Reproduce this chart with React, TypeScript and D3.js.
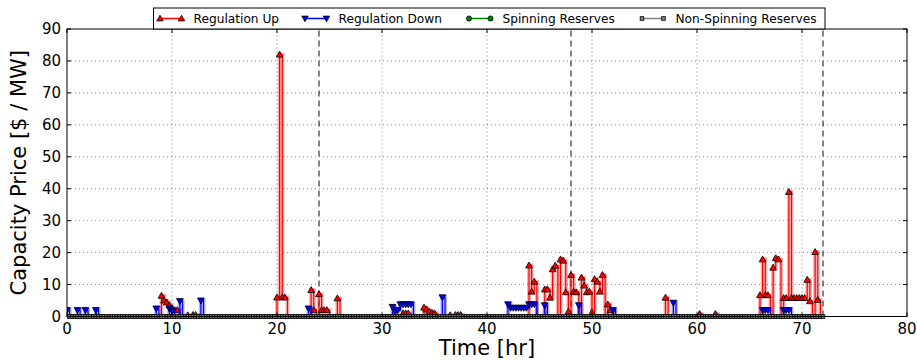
import React from 'react';
import * as d3 from 'd3';

// quarter-hour grid of the 72 h horizon
const horizonHours = 72;
const stepHours = 0.25;

// non-zero capacity prices [hour, $/MW]; every other quarter-hour is 0
const regulationUp: [number, number][] = [
  [9.0, 6.5], [9.25, 5.0], [9.5, 4.4], [9.75, 3.5], [10.0, 2.5], [10.25, 2.0], [10.5, 2.0],
  [11.5, 0.4], [12.0, 0.5], [12.25, 0.5],
  [20.0, 6], [20.25, 82], [20.5, 6], [20.75, 6],
  [23.25, 8.3], [23.5, 2.0], [24.0, 7.0], [24.25, 2.0], [24.5, 2.0], [24.75, 2.0], [25.75, 5.7],
  [32.0, 1.0], [32.25, 1.0], [32.5, 1.0],
  [34.0, 2.8], [34.25, 2.2], [34.5, 1.5], [34.75, 1.2], [35.0, 1.0],
  [36.5, 0.4], [37.0, 0.5], [37.25, 0.5], [37.5, 0.5],
  [44.0, 16], [44.25, 7.8], [44.5, 10.9], [45.5, 8.5], [45.75, 8.5],
  [46.0, 5.9], [46.25, 14.8], [46.5, 15.9], [47.0, 17.9], [47.25, 17.5], [47.5, 7.6], [47.75, 1.5],
  [48.0, 13], [48.25, 7.8], [48.5, 7.6], [49.0, 12.2], [49.25, 9.7], [49.5, 7.6], [49.75, 7.8],
  [50.0, 1.3], [50.25, 11.7], [50.5, 10.9], [50.75, 7.8], [51.0, 13], [51.5, 3.8], [51.75, 2.0],
  [57.0, 5.9], [60.25, 0.8], [61.75, 0.8],
  [66.0, 6.7], [66.25, 17.9], [66.5, 6.7], [66.75, 6.7],
  [67.25, 15.3], [67.5, 18.3], [67.75, 17.9],
  [68.25, 5.8], [68.5, 5.8], [68.75, 39], [69.0, 5.8], [69.25, 5.8], [69.5, 5.8], [69.75, 5.8],
  [70.0, 5.8], [70.25, 5.8], [70.5, 11.5], [70.75, 4.8], [71.25, 20.2], [71.5, 5.2],
];

const regulationDown: [number, number][] = [
  [0.0, 2.0], [1.0, 2.0], [1.75, 2.0], [2.75, 2.0],
  [8.5, 2.5], [9.75, 2.5], [10.0, 1.8], [10.75, 4.8], [12.75, 5.0],
  [23.0, 2.5],
  [31.0, 3.0], [31.25, 1.5], [31.5, 2.0], [31.75, 3.8], [32.0, 3.8], [32.25, 3.8], [32.5, 3.8], [32.75, 3.8],
  [35.75, 6.0],
  [42.0, 3.8], [42.25, 2.7], [42.5, 2.7], [42.75, 2.7], [43.0, 2.7], [43.25, 2.7], [43.5, 2.7], [43.75, 2.7],
  [44.0, 3.8], [44.25, 3.8], [44.5, 3.8], [45.5, 3.5], [48.75, 3.5], [52.0, 2.0],
  [57.75, 4.3],
  [66.25, 2.0], [66.5, 2.0], [66.75, 2.0], [68.25, 2.0], [68.5, 2.0], [68.75, 2.0],
];

const spinningReserves: [number, number][] = [];
const nonSpinningReserves: [number, number][] = [];

const xTicks = [0, 10, 20, 30, 40, 50, 60, 70, 80];
const yTicks = [0, 10, 20, 30, 40, 50, 60, 70, 80, 90];
const dayBoundaries = [24, 48, 72];

const legendItems = [
  { label: 'Regulation Up', color: '#ff0000', marker: 'up' },
  { label: 'Regulation Down', color: '#0000ff', marker: 'down' },
  { label: 'Spinning Reserves', color: '#008000', marker: 'circle' },
  { label: 'Non-Spinning Reserves', color: '#808080', marker: 'square' },
];

const W = 917;
const H = 363;
const margin = { left: 67, right: 10, top: 29, bottom: 46.5 };
const font = 'DejaVu Sans, sans-serif';

const times = d3.range(0, horizonHours + stepHours / 2, stepHours);

function expand(points: [number, number][]) {
  const lookup = new Map(points.map(([t, v]) => [t.toFixed(2), v]));
  return times.map(t => ({ t, v: lookup.get(t.toFixed(2)) ?? 0 }));
}

function Marker({ kind, x, y, color, r }: { kind: string; x: number; y: number; color: string; r: number }) {
  if (kind === 'up') {
    return <path d={`M${x},${y - r}L${x + r},${y + r * 0.75}L${x - r},${y + r * 0.75}Z`} fill={color} stroke="#000" strokeWidth={0.8} />;
  }
  if (kind === 'down') {
    return <path d={`M${x},${y + r}L${x + r},${y - r * 0.75}L${x - r},${y - r * 0.75}Z`} fill={color} stroke="#000" strokeWidth={0.8} />;
  }
  if (kind === 'circle') {
    return <circle cx={x} cy={y} r={r * 0.8} fill={color} stroke="#000" strokeWidth={0.8} />;
  }
  return <rect x={x - r * 0.7} y={y - r * 0.7} width={r * 1.4} height={r * 1.4} fill={color} stroke="#000" strokeWidth={0.8} />;
}

export default function App() {
  const innerW = W - margin.left - margin.right;
  const innerH = H - margin.top - margin.bottom;
  const x = d3.scaleLinear().domain([0, 80]).range([margin.left, margin.left + innerW]);
  const y = d3.scaleLinear().domain([0, 90]).range([margin.top + innerH, margin.top]);

  const stepLine = d3
    .line<{ t: number; v: number }>()
    .x(d => x(d.t))
    .y(d => y(d.v))
    .curve(d3.curveStepAfter);

  const series = [
    { data: expand(regulationUp), ...legendItems[0], showZeroMarkers: false },
    { data: expand(regulationDown), ...legendItems[1], showZeroMarkers: false },
    { data: expand(spinningReserves), ...legendItems[2], showZeroMarkers: false },
    { data: expand(nonSpinningReserves), ...legendItems[3], showZeroMarkers: true },
  ];

  const x0 = margin.left;
  const x1 = margin.left + innerW;
  const y0 = margin.top + innerH;
  const y1 = margin.top;

  // legend layout
  const legend = { x: 153.5, y: 8, w: 671.5, h: 21 };
  const legendX = [160, 305, 469, 642];
  const sampleLen = 21.5;

  return (
    <svg width={W} height={H} style={{ position: 'absolute', left: 0, top: 0, background: '#fff' }} fontFamily={font}>
      <defs>
        <clipPath id="plot">
          <rect x={x0} y={y1 - 6} width={innerW} height={innerH + 12} />
        </clipPath>
      </defs>
      <rect width={W} height={H} fill="#fff" />

      {/* grid */}
      {xTicks.slice(1, -1).map(t => (
        <line key={'gx' + t} x1={x(t)} x2={x(t)} y1={y0} y2={y1} stroke="#000" strokeWidth={0.6} strokeDasharray="1,3" opacity={0.8} />
      ))}
      {yTicks.slice(1, -1).map(t => (
        <line key={'gy' + t} x1={x0} x2={x1} y1={y(t)} y2={y(t)} stroke="#000" strokeWidth={0.6} strokeDasharray="1,3" opacity={0.8} />
      ))}

      {/* day boundaries */}
      {dayBoundaries.map(t => (
        <line key={'d' + t} x1={x(t)} x2={x(t)} y1={y0} y2={y1} stroke="#222" strokeWidth={1.1} strokeDasharray="6,4" />
      ))}

      <g clipPath="url(#plot)">
        {series.map(s => (
          <g key={s.label}>
            <path d={stepLine(s.data) ?? ''} fill="none" stroke={s.color} strokeWidth={4} strokeOpacity={0.3} />
            <path d={stepLine(s.data) ?? ''} fill="none" stroke={s.color} strokeWidth={1.2} />
            {s.data
              .filter(d => s.showZeroMarkers || d.v > 0)
              .map((d, i) => (
                <Marker key={i} kind={s.marker} x={x(d.t)} y={y(d.v)} color={s.color} r={s.marker === 'square' ? 2.6 : 3.4} />
              ))}
          </g>
        ))}
      </g>

      {/* frame */}
      <rect x={x0} y={y1} width={innerW} height={innerH} fill="none" stroke="#000" strokeWidth={1} />

      {/* ticks */}
      {xTicks.map(t => (
        <g key={'xt' + t}>
          <line x1={x(t)} x2={x(t)} y1={y0} y2={y0 - 4} stroke="#000" />
          <line x1={x(t)} x2={x(t)} y1={y1} y2={y1 + 4} stroke="#000" />
          <text x={x(t)} y={y0 + 17} textAnchor="middle" fontSize={15} fill="#000">{t}</text>
        </g>
      ))}
      {yTicks.map(t => (
        <g key={'yt' + t}>
          <line x1={x0} x2={x0 + 4} y1={y(t)} y2={y(t)} stroke="#000" />
          <line x1={x1} x2={x1 - 4} y1={y(t)} y2={y(t)} stroke="#000" />
          <text x={x0 - 6} y={y(t) + 5} textAnchor="end" fontSize={15} fill="#000">{t}</text>
        </g>
      ))}

      {/* axis labels */}
      <text x={(x0 + x1) / 2} y={355} textAnchor="middle" fontSize={21} fill="#000">Time [hr]</text>
      <text transform={`translate(26,${(y0 + y1) / 2}) rotate(-90)`} textAnchor="middle" fontSize={21} fill="#000">
        Capacity Price [$ / MW]
      </text>

      {/* legend */}
      <rect x={legend.x} y={legend.y} width={legend.w} height={legend.h} fill="#fff" stroke="#000" strokeWidth={1} />
      {legendItems.map((it, i) => {
        const lx = legendX[i];
        const ly = legend.y + legend.h / 2;
        return (
          <g key={it.label}>
            <line x1={lx} x2={lx + sampleLen} y1={ly} y2={ly} stroke={it.color} strokeWidth={1.5} />
            <Marker kind={it.marker} x={lx} y={ly} color={it.color} r={it.marker === 'square' ? 2.6 : 3.2} />
            <Marker kind={it.marker} x={lx + sampleLen} y={ly} color={it.color} r={it.marker === 'square' ? 2.6 : 3.2} />
            <text x={lx + 33.5} y={ly + 4.3} fontSize={12.2} fill="#000">{it.label}</text>
          </g>
        );
      })}
    </svg>
  );
}
